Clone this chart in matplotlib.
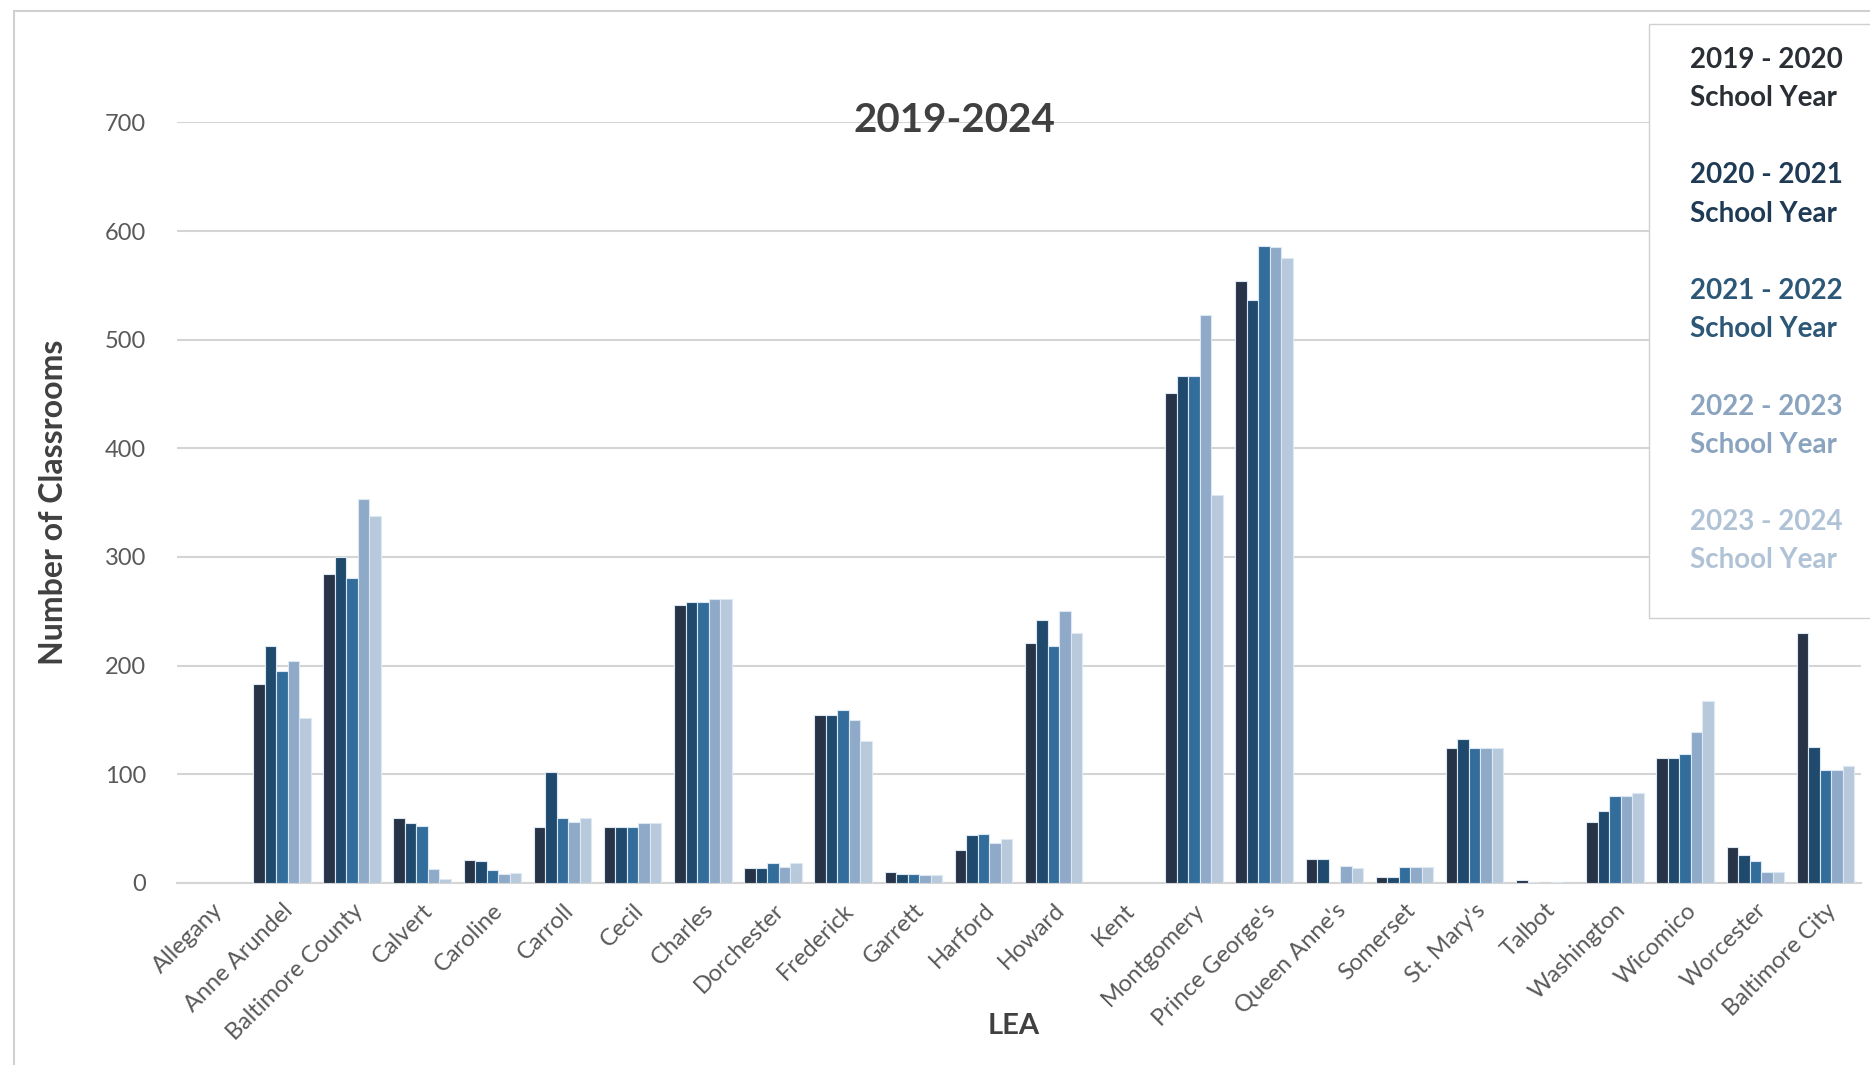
import numpy as np
import matplotlib.pyplot as plt
from matplotlib.patches import Rectangle, Shadow

leas = ["Allegany", "Anne Arundel", "Baltimore County", "Calvert", "Caroline",
        "Carroll", "Cecil", "Charles", "Dorchester", "Frederick", "Garrett",
        "Harford", "Howard", "Kent", "Montgomery", "Prince George's",
        "Queen Anne's", "Somerset", "St. Mary's", "Talbot", "Washington",
        "Wicomico", "Worcester", "Baltimore City"]

sy_2019_20 = [0, 183, 284, 60, 21, 51, 51, 256, 14, 155, 10, 30, 221, 0, 451, 554, 22, 5, 124, 3, 56, 115, 33, 230]
sy_2020_21 = [0, 218, 300, 55, 20, 102, 51, 259, 14, 155, 8, 44, 242, 0, 467, 537, 22, 5, 132, 1, 66, 115, 26, 125]
sy_2021_22 = [0, 195, 281, 52, 12, 60, 51, 259, 18, 159, 8, 45, 218, 0, 467, 586, 0, 15, 124, 0, 80, 119, 20, 104]
sy_2022_23 = [0, 204, 353, 13, 8, 56, 55, 261, 15, 150, 7, 37, 250, 0, 523, 585, 16, 15, 124, 1, 80, 139, 10, 104]
sy_2023_24 = [0, 152, 338, 4, 9, 60, 55, 261, 18, 131, 7, 40, 230, 0, 357, 575, 14, 15, 124, 0, 83, 167, 10, 108]

series = [sy_2019_20, sy_2020_21, sy_2021_22, sy_2022_23, sy_2023_24]
labels = ["2019 - 2020\nSchool Year", "2020 - 2021\nSchool Year", "2021 - 2022\nSchool Year",
          "2022 - 2023\nSchool Year", "2023 - 2024\nSchool Year"]
colors = ["#273447", "#1f4a6e", "#336d9b", "#8fa9c8", "#b8c9dc"]
text_colors = ["#2a2f36", "#1f3a55", "#2c5777", "#8aa4c0", "#b0c2d6"]

plt.rcParams['font.family'] = ['Lato', 'DejaVu Sans']

fig = plt.figure(figsize=(18.7, 10.65), dpi=100)
ax = fig.add_axes([0.0944, 0.171, 0.9006, 0.714])

x = np.arange(len(leas))
w = 0.82 / len(series)
for j, vals in enumerate(series):
    ax.bar(x + (j - 2) * w, vals, width=w, color=colors[j], edgecolor="#dce8f3",
           linewidth=0.8, label=labels[j], zorder=3)

ax.set_xlim(-0.5, len(leas) - 0.5)
ax.set_ylim(0, 700)
ax.set_yticks(range(0, 701, 100))
ax.grid(axis="y", color="#d4d4d4", linewidth=1.5, zorder=0)
for s in ["top", "right", "left"]:
    ax.spines[s].set_visible(False)
ax.spines["bottom"].set_color("#d4d4d4")
ax.spines["bottom"].set_linewidth(1.5)
ax.tick_params(axis="both", length=0, colors="#595959")
ax.tick_params(axis="y", pad=22, labelsize=17)
ax.tick_params(axis="x", pad=12, labelsize=17)
ax.set_xticks(x)
ax.set_xticklabels(leas, rotation=45, ha="right", rotation_mode="anchor")

ax.set_ylabel("Number of Classrooms", fontsize=23, fontweight="bold", color="#404040",
              family=["Liberation Sans Narrow", "Lato"])
ax.yaxis.set_label_coords(-0.0645, 0.5)
ax.set_xlabel("LEA", fontsize=21, fontweight="bold", color="#404040")
ax.xaxis.set_label_coords(0.497, -0.188)
ax.xaxis.label.set_va("center")
ax.text(0.462, 1.003, "2019-2024", transform=ax.transAxes, ha="center", va="center",
        fontsize=29, fontweight="bold", color="#404040")

# legend box (frame drawn separately so it can run off the right edge)
box = Rectangle((0.882, 0.4197), 0.2, 0.5577, transform=fig.transFigure,
                facecolor="white", edgecolor="#d0d0d0", linewidth=1.0, zorder=5)
shadow = Shadow(box, 4, -5, facecolor="#9a9a9a", alpha=0.5, zorder=4.9)
fig.patches.extend([shadow, box])

leg = ax.legend(loc="upper left", bbox_to_anchor=(0.9037, 0.956), bbox_transform=fig.transFigure,
                frameon=False, handlelength=0, handletextpad=0, labelspacing=1.85,
                borderpad=0, borderaxespad=0,
                prop={"weight": "bold", "size": 20}, labelcolor=text_colors)
leg.set_zorder(6)
for h in leg.legend_handles:
    h.set_visible(False)
for t in leg.get_texts():
    t.set_linespacing(1.58)
leg.remove()
fig.add_artist(leg)

fig.patches.append(Rectangle((0.0075, -0.1), 1.2, 1.09, transform=fig.transFigure,
                             fill=False, edgecolor="#d0d0d0", linewidth=1.5))

fig.savefig("out.png", dpi=100)
